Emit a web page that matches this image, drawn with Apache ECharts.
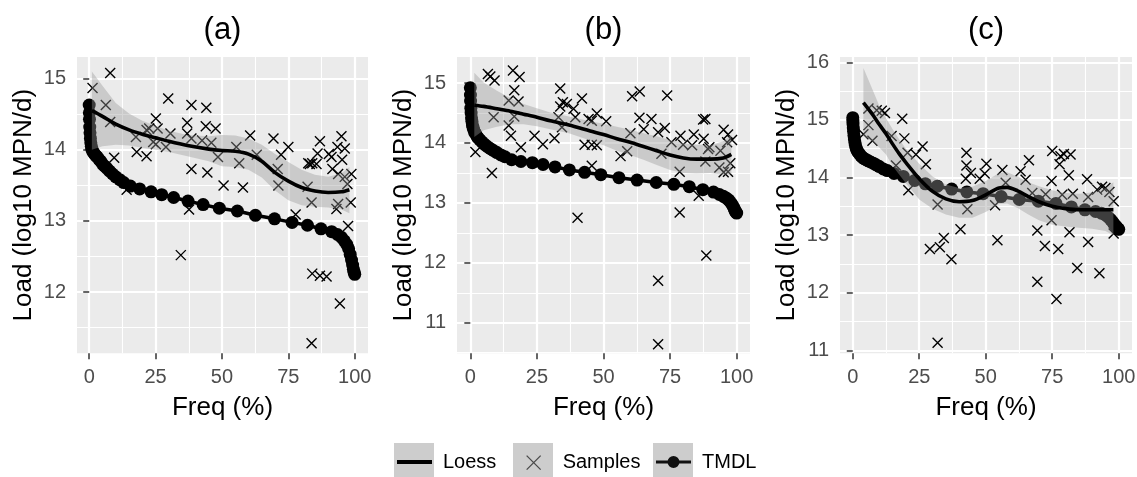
<!DOCTYPE html>
<html><head><meta charset="utf-8">
<script src="https://cdn.jsdelivr.net/npm/echarts@6/dist/echarts.min.js"></script>
<style>html,body{margin:0;padding:0;background:#fff}#c{width:1137px;height:477px}</style>
</head><body><div id="c"></div>
<script>
const FONT = '"Liberation Sans", Arial, Helvetica, sans-serif';

// ---- axis ticks ----
const xTicks = [0, 25, 50, 75, 100];
const xMinor = [12.5, 37.5, 62.5, 87.5];
const yTicksA = [12, 13, 14, 15];
const yMinorA = [11.5, 12.5, 13.5, 14.5];
const yTicksB = [11, 12, 13, 14, 15];
const yMinorB = [10.5, 11.5, 12.5, 13.5, 14.5];
const yTicksC = [11, 12, 13, 14, 15, 16];
const yMinorC = [11.5, 12.5, 13.5, 14.5, 15.5];
const panelTitles = ['(a)', '(b)', '(c)'];

// ---- TMDL curves (flow duration %, load) ----
const tmdlX = [0, 0.05, 0.1, 0.2, 0.3, 0.45, 0.6, 0.8, 1, 1.3, 1.6, 2, 2.5, 3, 3.6, 4.3, 5, 5.8, 6.7, 7.7, 8.8, 10, 11.5, 13, 15.5, 19, 23.3, 27.3, 31.8, 37.2, 42.9, 49, 55.8, 62.6, 69.8, 76.4, 82.2, 87.3, 91.3, 93.5, 95, 96.1, 97, 97.7, 98.3, 98.8, 99.2, 99.5, 99.75, 100];
const tmdlA = [14.63, 14.52, 14.43, 14.32, 14.24, 14.16, 14.10, 14.05, 14.01, 13.98, 13.96, 13.94, 13.92, 13.90, 13.87, 13.84, 13.80, 13.77, 13.74, 13.70, 13.66, 13.62, 13.58, 13.54, 13.49, 13.45, 13.41, 13.37, 13.33, 13.28, 13.23, 13.18, 13.14, 13.08, 13.03, 12.98, 12.94, 12.89, 12.85, 12.81, 12.77, 12.72, 12.67, 12.61, 12.53, 12.45, 12.38, 12.32, 12.28, 12.25];
const tmdlB = [14.92, 14.80, 14.70, 14.58, 14.50, 14.42, 14.36, 14.30, 14.26, 14.22, 14.18, 14.15, 14.11, 14.08, 14.05, 14.02, 13.99, 13.96, 13.93, 13.90, 13.87, 13.84, 13.80, 13.77, 13.72, 13.69, 13.67, 13.64, 13.60, 13.55, 13.51, 13.47, 13.42, 13.38, 13.34, 13.31, 13.27, 13.22, 13.18, 13.14, 13.11, 13.08, 13.05, 13.01, 12.97, 12.93, 12.89, 12.86, 12.84, 12.83];
const tmdlC = [15.04, 14.98, 14.93, 14.86, 14.80, 14.73, 14.67, 14.61, 14.56, 14.51, 14.47, 14.44, 14.41, 14.38, 14.35, 14.33, 14.31, 14.29, 14.27, 14.25, 14.22, 14.19, 14.15, 14.12, 14.07, 14.02, 13.95, 13.89, 13.85, 13.80, 13.75, 13.72, 13.67, 13.62, 13.59, 13.55, 13.49, 13.44, 13.41, 13.38, 13.35, 13.31, 13.27, 13.23, 13.19, 13.16, 13.14, 13.12, 13.11, 13.10];

// ---- Loess fits and confidence bands ----
const loessXA = [1, 5, 10, 15, 20, 25, 30, 37, 45, 50, 55, 60, 65, 70, 75, 80, 85, 90, 95, 98];
const loessA   = [14.55, 14.47, 14.36, 14.28, 14.22, 14.17, 14.12, 14.06, 14.01, 13.99, 13.98, 13.94, 13.84, 13.68, 13.56, 13.47, 13.42, 13.40, 13.41, 13.44];
const loessHiA = [15.10, 14.90, 14.66, 14.51, 14.41, 14.34, 14.27, 14.21, 14.19, 14.21, 14.20, 14.16, 14.07, 13.94, 13.83, 13.72, 13.65, 13.62, 13.67, 13.76];
const loessLoA = [14.00, 14.05, 14.07, 14.06, 14.03, 14.00, 13.97, 13.91, 13.84, 13.77, 13.76, 13.72, 13.61, 13.43, 13.29, 13.22, 13.20, 13.19, 13.16, 13.11];

const loessXB = [1.5, 5, 10, 15, 20, 25, 30, 37, 45, 50, 55, 60, 65, 70, 75, 80, 85, 90, 95, 98];
const loessB   = [14.63, 14.61, 14.57, 14.53, 14.48, 14.43, 14.37, 14.30, 14.20, 14.14, 14.07, 14.01, 13.94, 13.87, 13.80, 13.75, 13.73, 13.73, 13.75, 13.81];
const loessHiB = [15.17, 15.01, 14.87, 14.75, 14.65, 14.58, 14.51, 14.44, 14.36, 14.32, 14.27, 14.22, 14.16, 14.11, 14.05, 14.00, 13.97, 13.96, 14.03, 14.14];
const loessLoB = [14.10, 14.21, 14.27, 14.31, 14.31, 14.28, 14.23, 14.16, 14.04, 13.96, 13.87, 13.80, 13.72, 13.63, 13.55, 13.50, 13.49, 13.50, 13.47, 13.48];

const loessXC = [4, 7.5, 10, 12.5, 15, 17.5, 20, 25, 30, 35, 40, 45, 50, 55, 58, 62, 66, 70, 75, 80, 85, 90, 95, 98];
const loessC   = [15.30, 15.09, 14.92, 14.76, 14.58, 14.41, 14.26, 13.98, 13.76, 13.63, 13.58, 13.60, 13.70, 13.82, 13.83, 13.77, 13.67, 13.58, 13.50, 13.46, 13.44, 13.44, 13.44, 13.44];
const loessHiC = [15.90, 15.52, 15.24, 15.03, 14.84, 14.66, 14.50, 14.24, 14.02, 13.88, 13.82, 13.84, 13.94, 14.08, 14.09, 14.02, 13.92, 13.85, 13.78, 13.73, 13.72, 13.74, 13.82, 13.92];
const loessLoC = [14.72, 14.62, 14.52, 14.40, 14.20, 14.05, 13.90, 13.62, 13.46, 13.36, 13.30, 13.30, 13.40, 13.54, 13.55, 13.47, 13.36, 13.26, 13.18, 13.15, 13.13, 13.11, 13.07, 13.00];

// ---- Samples ([freq %, load]) ----
const samplesA = [[1.25,14.87],[7.9,15.08],[6.25,14.63],[7.9,14.39],[9.4,13.89],[14.1,13.44],[17.6,14.18],[17.9,13.97],[21.6,13.91],[21.6,14.28],[25.1,14.44],[22.6,14.30],[25.75,14.30],[24.1,14.11],[25.1,14.08],[28.9,14.04],[29.75,14.72],[30.6,14.23],[38.5,14.63],[44.1,14.59],[36.9,14.38],[36.9,14.23],[38.5,14.16],[43.9,14.33],[47.6,14.30],[42.5,14.13],[46,14.10],[38.5,13.73],[44.5,13.68],[48.5,13.90],[50.6,13.50],[37.6,13.16],[34.5,12.52],
[60.6,14.20],[55.4,14.04],[56.5,13.81],[63.1,13.93],[57.9,13.47],[69.4,14.16],[72.25,13.93],[75,14.04],[71,13.73],[71.25,13.50],[77.75,13.09],[82.25,13.48],[83.75,13.26],[86.9,14.12],[86,13.95],[82.5,13.81],[84,13.81],[85.6,13.80],[83.1,13.80],[90.25,13.94],[91.25,13.90],[95,14.19],[93.5,14.04],[96.25,14.02],[95.25,13.86],[91.6,13.73],[93.75,13.66],[96.25,13.62],[98.75,13.66],[97.25,13.52],[98.5,13.26],[93.75,13.24],[93.1,13.17],[97.5,12.93],[84,12.26],[86.9,12.23],[89.4,12.22],[94.4,11.84],[83.75,11.28]];
const samplesB = [[1.9,13.85],[8.1,13.50],[6.6,15.15],[7.5,15.11],[9.1,15.04],[8.75,14.43],[16,15.21],[18.5,15.10],[16.5,14.88],[14.4,14.71],[18.1,14.69],[16.5,14.44],[14.4,14.29],[15.25,14.12],[19,13.93],[24.1,14.12],[27.25,13.98],[31.6,14.08],[33.75,14.91],[34.75,14.68],[36.25,14.65],[33.75,14.61],[38.75,14.57],[41.9,14.74],[39.4,14.43],[33.1,14.43],[34.4,14.26],[42.9,13.97],[45.6,13.97],[47.5,13.96],[44.4,14.40],[45.6,14.37],[47.5,14.49],[45.6,13.62],[40.25,12.75],
[51,14.36],[60.75,14.78],[63.6,14.86],[73.9,14.79],[63.5,14.42],[68,14.40],[65.1,14.23],[60.1,14.16],[70.5,14.18],[73,14.25],[56.4,13.78],[58.9,13.86],[71.75,13.82],[75.5,14.01],[78.9,14.12],[79.9,13.97],[83.25,13.96],[83.9,14.14],[87.4,14.39],[88.25,14.40],[87.6,14.07],[89.25,13.90],[89.75,13.93],[88.25,13.69],[93.9,13.87],[95.1,14.22],[96.75,14.14],[98.25,14.05],[96.4,14.01],[93.5,13.59],[95.1,13.51],[96.75,13.52],[97.6,13.66],[78.6,13.52],[85.75,13.12],[78.6,12.84],[88.6,12.12],[70.5,11.70],[70.5,10.64]];
const samplesC = [[5.9,15.20],[4,14.75],[5.9,14.91],[7.4,14.64],[9,15.17],[12.1,15.12],[10.9,15.16],[18.6,15.02],[14.6,14.72],[19.4,14.68],[20.6,14.43],[23.75,14.40],[26.25,14.54],[27.5,14.23],[16.25,14.21],[20.9,13.78],[31.9,13.53],[42.75,14.43],[42.75,14.21],[44.4,14.08],[42.5,13.98],[50.25,14.24],[49.6,14.07],[47.75,13.98],[43.1,13.45],[40.5,13.10],[34.25,12.95],[32.75,12.79],[29,12.76],[37.1,12.58],[31.9,11.13],
[56.25,14.13],[57.5,13.91],[53.5,13.52],[54.4,12.91],[66.25,14.30],[63.1,14.11],[65,13.96],[67.5,13.73],[69.4,13.08],[72.25,12.81],[69.4,12.19],[75,14.46],[78.1,14.37],[79.4,14.41],[81.9,14.40],[77.75,14.23],[74.75,13.94],[81.25,14.04],[72.5,13.71],[78.75,13.70],[82.75,13.72],[74.75,13.26],[77.25,12.76],[81.5,13.05],[76.6,11.89],[88.1,13.97],[88.5,13.66],[91.9,13.79],[93.75,13.84],[95,13.82],[96.5,13.75],[98.1,13.59],[88.5,12.88],[84.4,12.43],[92.75,12.34],[98.1,13.03]];

// ---- build ----
const panels = [
  {title: panelTitles[0], left: 77,  width: 291, xr: [-4.6, 105], yr: [11.14, 15.305], yT: yTicksA, yM: yMinorA, samples: samplesA, tmdl: tmdlA, lx: loessXA, ly: loessA, lo: loessLoA, hi: loessHiA},
  {title: panelTitles[1], left: 457, width: 293, xr: [-5, 105],   yr: [10.49, 15.434], yT: yTicksB, yM: yMinorB, samples: samplesB, tmdl: tmdlB, lx: loessXB, ly: loessB, lo: loessLoB, hi: loessHiB},
  {title: panelTitles[2], left: 840, width: 292, xr: [-4.8, 105], yr: [10.948, 16.093], yT: yTicksC, yM: yMinorC, samples: samplesC, tmdl: tmdlC, lx: loessXC, ly: loessC, lo: loessLoC, hi: loessHiC}
];

const TOP = 57, H = 296.3;
const grid = [], xAxis = [], yAxis = [], series = [], title = [];
panels.forEach((p, i) => {
  grid.push({left: p.left, top: TOP, width: p.width, height: H, show: true, z: 0, backgroundColor: '#EBEBEB', borderWidth: 0, containLabel: false, outerBoundsMode: 'none'});
  title.push({text: p.title, left: p.left + p.width / 2, top: 15, textAlign: 'center', padding: 0,
    textStyle: {fontSize: 31, fontWeight: 'normal', color: '#000', fontFamily: FONT}});
  xAxis.push({type: 'value', gridIndex: i, min: p.xr[0], max: p.xr[1],
    axisLine: {show: false},
    splitLine: {show: true, lineStyle: {color: '#FFFFFF', width: 2.2, type: 'solid', opacity: 1}},
    axisTick: {show: true, length: 6, lineStyle: {color: '#333', width: 1.5}, customValues: xTicks},
    axisLabel: {customValues: xTicks, fontSize: 20, color: '#4D4D4D', fontFamily: FONT, margin: 14},
    name: 'Freq (%)', nameLocation: 'middle', nameGap: 42, nameMoveOverlap: false,
    nameTextStyle: {fontSize: 26, color: '#000', fontFamily: FONT}});
  yAxis.push({type: 'value', gridIndex: i, min: p.yr[0], max: p.yr[1],
    axisLine: {show: false},
    splitLine: {show: true, lineStyle: {color: '#FFFFFF', width: 2.2, type: 'solid', opacity: 1}},
    axisTick: {show: true, length: 6, lineStyle: {color: '#333', width: 1.5}, customValues: p.yT},
    axisLabel: {customValues: p.yT, fontSize: 20, color: '#4D4D4D', fontFamily: FONT, margin: 11},
    name: 'Load (log10 MPN/d)', nameLocation: 'middle', nameGap: 40, nameMoveOverlap: false,
    nameTextStyle: {fontSize: 26, color: '#000', fontFamily: FONT}});

  // minor white grid lines as mark lines at axis values
  const gl = [];
  xMinor.forEach(v => gl.push({xAxis: v}));
  p.yM.forEach(v => gl.push({yAxis: v}));

  series.push({type: 'line', name: 'TMDL', xAxisIndex: i, yAxisIndex: i, z: 3,
    data: tmdlX.map((x, j) => [x, p.tmdl[j]]), symbol: 'circle', symbolSize: 13, showSymbol: true, showAllSymbol: true,
    lineStyle: {color: '#000', width: 3.5}, itemStyle: {color: '#000'},
    markLine: {z: 2, silent: true, animation: false, symbol: ['none', 'none'], precision: 3,
      label: {show: false}, emphasis: {disabled: true},
      lineStyle: {color: '#FFFFFF', type: 'solid', width: 1.1, opacity: 1}, data: gl}});

  series.push({type: 'scatter', name: 'Samples', xAxisIndex: i, yAxisIndex: i, z: 4,
    data: p.samples, symbol: 'path://M0,0L10,10M10,0L0,10', symbolSize: 10,
    itemStyle: {color: 'rgba(0,0,0,0)', borderColor: '#000', borderWidth: 1.4, opacity: 1}});

  // confidence band polygon
  series.push({type: 'custom', name: 'band' + i, coordinateSystem: 'cartesian2d', xAxisIndex: i, yAxisIndex: i,
    silent: true, z: 5, data: [[p.lx[0], p.ly[0]]],
    renderItem: function (params, api) {
      const pts = [];
      for (let j = 0; j < p.lx.length; j++) pts.push(api.coord([p.lx[j], p.hi[j]]));
      for (let j = p.lx.length - 1; j >= 0; j--) pts.push(api.coord([p.lx[j], p.lo[j]]));
      return {type: 'polygon', shape: {points: pts}, style: {fill: 'rgba(153,153,153,0.4)'}};
    }});

  series.push({type: 'line', name: 'Loess', xAxisIndex: i, yAxisIndex: i, z: 6,
    data: p.lx.map((x, j) => [x, p.ly[j]]), symbol: 'none', smooth: 0.3,
    lineStyle: {color: '#000', width: 3.6}, itemStyle: {color: '#000'}});
});

const legendText = {fontSize: 20, color: '#000', fontFamily: FONT, padding: [0, 0, 0, 4]};
const legend = [
  {data: [{name: 'Loess', icon: 'path://M0,0M40,38M3,17h35v4h-35z', itemStyle: {color: '#000', borderWidth: 0}}],
   left: 394, top: 443, itemWidth: 40, itemHeight: 38, padding: 0, selectedMode: false, textStyle: legendText},
  {data: [{name: 'Samples', icon: 'path://M0,0M40,38M13,12L27,26M27,12L13,26', itemStyle: {color: 'rgba(0,0,0,0)', borderColor: '#4A4A4A', borderWidth: 1.3}}],
   left: 513, top: 443, itemWidth: 40, itemHeight: 38, padding: 0, selectedMode: false, textStyle: legendText},
  {data: [{name: 'TMDL', icon: 'path://M0,0M40,38M3,17.5h35v3h-35zM26.5,19A6,6,0,1,1,14.5,19A6,6,0,1,1,26.5,19Z', itemStyle: {color: '#111', borderWidth: 0}}],
   left: 653, top: 443, itemWidth: 40, itemHeight: 38, padding: 0, selectedMode: false, textStyle: legendText}
];

const keyBoxes = [394, 513, 653].map(x => ({type: 'rect', shape: {x: x, y: 443, width: 40, height: 40}, style: {fill: '#CDCDCD'}, z: -1, silent: true}));

const chart = echarts.init(document.getElementById('c'), null, {renderer: 'canvas'});
chart.setOption({
  animation: false,
  backgroundColor: '#FFFFFF',
  title, grid, xAxis, yAxis, series, legend,
  graphic: {elements: keyBoxes}
});
</script></body></html>
